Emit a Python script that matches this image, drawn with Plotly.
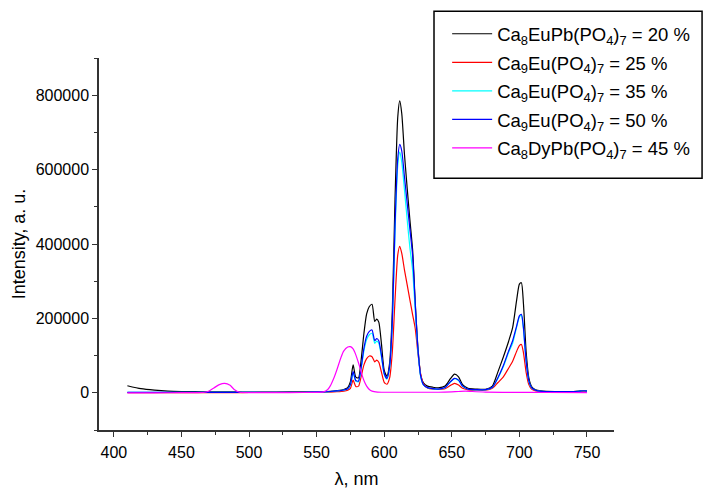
import plotly.graph_objects as go

# ---- data ----
wl_eu = [410, 420, 430, 440, 450, 460, 470, 480, 490, 500, 520, 540, 555, 560, 565, 570, 573, 575,
         577, 579, 581, 583, 585, 587, 589, 591, 593, 594.5, 596, 598, 600, 602, 604, 606, 608, 610,
         611.5, 613, 615, 617, 619, 621, 623, 625, 627, 629, 632, 636, 640, 645, 649, 652, 655, 658,
         662, 668, 675, 680, 684, 688, 692, 695, 698, 700, 701.5, 703, 705, 707, 709, 712, 716, 720,
         730, 740, 745, 748, 750]

eu_pb_20 = [19000, 11000, 7000, 4500, 3500, 3000, 2500, 2500, 2300, 2000, 2000, 2500, 3000, 4000, 6000, 9000, 14000, 30000,
            75000, 42000, 40000, 90000, 160000, 212000, 232000, 238000, 192000, 198000, 190000, 130000, 60000, 45000, 80000, 220000, 520000, 740000,
            785000, 750000, 640000, 550000, 465000, 385000, 240000, 120000, 47000, 27000, 18000, 15000, 13500, 18000, 38000, 50000, 43000, 22000,
            12000, 10000, 9500, 18000, 55000, 95000, 138000, 175000, 250000, 292000, 296000, 240000, 110000, 40000, 17000, 8000, 5000, 4000,
            3500, 3500, 5000, 6000, 5000]

eu_25 = [500, 500, 500, 500, 500, 500, 500, 500, 500, 800, 1000, 1000, 1500, 2000, 3000, 4500, 7000, 12000,
         34000, 17000, 18000, 45000, 75000, 92000, 99000, 97000, 83000, 88000, 82000, 55000, 28000, 23000, 40000, 110000, 250000, 370000,
         394000, 375000, 330000, 290000, 250000, 210000, 172000, 105000, 50000, 24000, 13000, 9500, 9000, 11000, 20000, 25500, 21000, 12000,
         8000, 7000, 7000, 12000, 27000, 42000, 66000, 85000, 112000, 127000, 130000, 108000, 55000, 22000, 10000, 5000, 3500, 3000,
         2500, 2500, 3500, 4500, 3500]

eu_35 = [900, 900, 900, 900, 900, 900, 900, 900, 900, 900, 1000, 1400, 2400, 3300, 4800, 7000, 10500, 21000,
         54000, 31000, 30000, 66000, 113000, 143000, 156000, 160000, 133000, 139000, 133000, 95000, 50000, 37000, 66000, 180000, 430000, 610000,
         648000, 620000, 545000, 465000, 390000, 330000, 220000, 110000, 43000, 21000, 13500, 10500, 9500, 13500, 29000, 38000, 33000, 17500,
         9500, 8000, 8000, 14000, 38000, 69000, 108000, 133000, 177000, 204000, 208000, 172000, 83000, 31000, 13500, 7000, 4000, 3500,
         3000, 3000, 4500, 5500, 4500]

eu_50 = [1000, 1000, 1000, 1000, 1000, 1000, 1000, 1000, 1000, 1000, 1000, 1500, 2500, 3500, 5000, 7500, 11000, 22000,
         57000, 33000, 32000, 70000, 120000, 152000, 165000, 169000, 140000, 146000, 140000, 100000, 52000, 39000, 70000, 190000, 450000, 630000,
         668000, 650000, 580000, 510000, 440000, 370000, 235000, 115000, 45000, 22000, 14000, 11000, 10000, 14000, 30000, 39000, 34000, 18000,
         10000, 8500, 8500, 15000, 40000, 72000, 112000, 140000, 180000, 207000, 211000, 175000, 85000, 32000, 14000, 7000, 4000, 3500,
         3000, 3000, 4500, 5500, 4500]

wl_dy = [410, 430, 450, 460, 466, 470, 474, 478, 482, 486, 489, 493, 500, 520, 540, 550, 555, 558, 560, 563,
         565, 568, 570, 573, 575, 577, 579, 581, 583, 585, 587, 589, 591, 595, 600, 620, 640, 650, 655, 660,
         665, 675, 700, 720, 750]
dy_pb_45 = [0, 0, 300, 500, 800, 4000, 13000, 22000, 25500, 20000, 9000, 1500, 500, 500, 800, 1200, 2500, 8000, 18000, 42000,
            62000, 95000, 112000, 123000, 124000, 118000, 102000, 80000, 55000, 33000, 18000, 9000, 4500, 2000, 1500, 1500, 1500, 2500, 3500, 4500,
            3500, 2000, 1000, 800, 500]

names = ["Ca<sub>8</sub>EuPb(PO<sub>4</sub>)<sub>7</sub> = 20 %",
         "Ca<sub>9</sub>Eu(PO<sub>4</sub>)<sub>7</sub> = 25 %",
         "Ca<sub>9</sub>Eu(PO<sub>4</sub>)<sub>7</sub> = 35 %",
         "Ca<sub>9</sub>Eu(PO<sub>4</sub>)<sub>7</sub> = 50 %",
         "Ca<sub>8</sub>DyPb(PO<sub>4</sub>)<sub>7</sub> = 45 %"]
colors = ["#000000", "#FF0000", "#00FFFF", "#0000FF", "#FF00FF"]

x_ticks = [400, 450, 500, 550, 600, 650, 700, 750]
y_ticks = [0, 200000, 400000, 600000, 800000]

series = [(wl_eu, eu_pb_20), (wl_eu, eu_25), (wl_eu, eu_35), (wl_eu, eu_50), (wl_dy, dy_pb_45)]

fig = go.Figure()
for i, ((xs, ys), nm, col) in enumerate(zip(series, names, colors)):
    fig.add_trace(go.Scatter(x=xs, y=ys, mode="lines", name=nm, legendgroup=f"g{i}",
                             line=dict(color=col, width=1.2, shape="spline", smoothing=0.6)))

font_family = "Liberation Sans, Arial, sans-serif"
fig.update_layout(
    width=704, height=489,
    margin=dict(l=99, r=90, t=58, b=59, autoexpand=False),
    paper_bgcolor="white", plot_bgcolor="white",
    font=dict(family=font_family, color="black", size=16),
    showlegend=True,
    legend=dict(x=0.676, y=1.115, xanchor="left", yanchor="top",
                borderwidth=0, bgcolor="rgba(0,0,0,0)",
                font=dict(size=18.5, family=font_family), itemwidth=40,
                tracegroupgap=1.5),
    shapes=[dict(type="rect", xref="paper", yref="paper",
                 x0=0.6505, x1=1.171, y0=0.677, y1=1.1255,
                 line=dict(color="black", width=1.5), fillcolor="rgba(0,0,0,0)", layer="above")],
)
fig.update_xaxes(range=[389, 770], tickvals=x_ticks, ticktext=[str(v) for v in x_ticks],
                 showline=True, linecolor="#333333", linewidth=1.5, mirror=False,
                 ticks="outside", ticklen=5, tickwidth=1, tickcolor="#333333",
                 minor=dict(dtick=25, tick0=375, ticks="outside", ticklen=3, tickcolor="#333333"),
                 showgrid=False, zeroline=False, automargin=False, ticklabelstandoff=2,
                 title=dict(text="λ, nm", font=dict(size=18), standoff=14),
                 tickfont=dict(size=16))
fig.update_yaxes(range=[-100000, 900000], tickvals=y_ticks, ticktext=[str(v) for v in y_ticks],
                 showline=True, linecolor="#333333", linewidth=1.5, mirror=False,
                 ticks="outside", ticklen=5, tickwidth=1, tickcolor="#333333",
                 minor=dict(dtick=100000, tick0=0, ticks="outside", ticklen=3, tickcolor="#333333"),
                 showgrid=False, zeroline=False, automargin=False,
                 title=dict(text="Intensity, a. u.", font=dict(size=18), standoff=5),
                 tickfont=dict(size=16))

fig.write_html("out.html")
